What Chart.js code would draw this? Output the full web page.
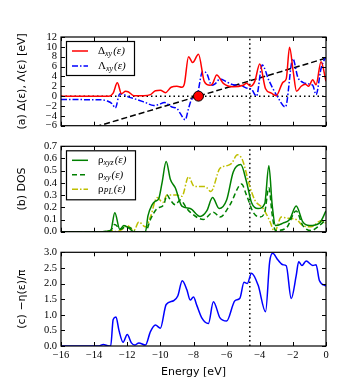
<!DOCTYPE html>
<html>
<head>
<meta charset="utf-8">
<script src="https://cdn.jsdelivr.net/npm/chart.js@4.4.1/dist/chart.umd.min.js"></script>
<style>
  body { margin: 0; background: #fff; }
  #wrap { position: relative; width: 339px; height: 384px; }
  canvas { position: absolute; left: 0; }
</style>
</head>
<body>
<div id="wrap">
  <canvas id="chart-a" width="339" height="136" style="top:0px"></canvas>
  <canvas id="chart-b" width="339" height="106" style="top:136px"></canvas>
  <canvas id="chart-c" width="339" height="142" style="top:242px"></canvas>
</div>
<script>
var fermiEnergy = -4.6;
var crossEnergy = -7.7;
var xTicks = [-16, -14, -12, -10, -8, -6, -4, -2, 0];

// (a) Delta_xy and Lambda_xy [eV]
var deltaE = [-16, -13.1, -12.85, -12.6, -12.35, -12.1, -11.95, -11.6, -11.0, -10.6, -10.3, -10.0, -9.7, -9.35, -9.0, -8.7, -8.55, -8.3, -8.05, -7.7, -7.35, -7.0, -6.85, -6.6, -6.2, -5.6, -5.0, -4.8, -4.55, -4.3, -4.0, -3.65, -3.3, -3.0, -2.6, -2.4, -2.2, -1.98, -1.78, -1.5, -1.25, -1.05, -0.8, -0.6, -0.3, 0];
var deltaV = [0, 0, 0.6, 2.7, 0.5, 1.0, 0.9, 0.1, 0.1, 0.3, 1.1, 1.2, 0.7, 1.8, 2.0, 1.8, 2.5, 8.0, 6.8, 8.5, 3.0, 2.2, 2.5, 4.3, 2.6, 1.9, 2.2, 2.6, 2.0, 3.0, 6.5, 1.5, 0.6, 0.1, 2.8, 3.5, 9.9, 5.0, 1.0, 2.0, 2.4, 2.0, 3.3, 2.3, 7.0, 3.0];
var lambdaE = [-16, -13.6, -13.2, -12.9, -12.72, -12.45, -12.2, -11.9, -11.5, -10.9, -10.4, -10.1, -9.75, -9.3, -9.0, -8.8, -8.5, -8.3, -8.1, -7.8, -7.45, -7.2, -6.9, -6.7, -6.4, -6.0, -5.6, -5.2, -4.75, -4.5, -4.2, -3.85, -3.45, -2.95, -2.45, -2.0, -1.7, -1.4, -1.1, -0.8, -0.6, -0.3, -0.05];
var lambdaV = [-0.7, -0.75, -1.0, -1.6, -2.4, 0.5, 0.3, -0.2, -0.6, -1.3, -1.9, -1.7, -1.3, -2.2, -2.5, -3.5, -4.8, -2.5, -0.6, 0.0, 5.0, 4.6, 2.2, 2.5, 3.5, 2.9, 2.3, 2.2, 1.6, 1.4, 0.0, 6.3, 3.2, 0.0, -2.2, 7.6, 3.8, 2.8, 2.5, 2.2, 0.3, 5.6, 7.8];
var lineE = [-16, 0];   // straight line eps - E0
var aTicks = [-6, -4, -2, 0, 2, 4, 6, 8, 10, 12];

// (b) DOS
var rhoXyzE = [-16, -13.5, -13.0, -12.75, -12.45, -12.2, -11.9, -11.6, -10.9, -10.75, -10.5, -10.3, -10.1, -9.9, -9.65, -9.4, -9.1, -8.7, -8.2, -7.6, -7.2, -6.85, -6.45, -6.0, -5.6, -5.15, -4.8, -4.5, -4.1, -3.7, -3.45, -3.25, -3.05, -2.6, -2.2, -1.8, -1.4, -1.0, -0.4, 0];
var rhoXyzV = [0, 0, 0.01, 0.155, 0.02, 0.05, 0.03, 0.0, 0.0, 0.13, 0.22, 0.25, 0.27, 0.40, 0.575, 0.43, 0.36, 0.21, 0.19, 0.125, 0.17, 0.28, 0.19, 0.26, 0.49, 0.55, 0.41, 0.24, 0.19, 0.23, 0.54, 0.22, 0.05, 0.07, 0.10, 0.21, 0.08, 0.05, 0.07, 0.17];
var rhoXyE = [-16, -13.5, -13.0, -12.75, -12.4, -12.1, -11.8, -11.5, -10.9, -10.6, -10.2, -9.8, -9.6, -9.4, -9.1, -8.8, -8.4, -8.2, -7.4, -6.8, -6.4, -5.8, -5.1, -4.8, -4.4, -4.0, -3.7, -3.45, -3.25, -3.05, -2.4, -1.8, -1.4, -0.9, -0.4, 0];
var rhoXyV = [0, 0, 0.01, 0.06, 0.02, 0.04, 0.03, 0.0, 0.0, 0.10, 0.19, 0.22, 0.30, 0.26, 0.22, 0.26, 0.19, 0.16, 0.10, 0.16, 0.12, 0.22, 0.39, 0.30, 0.16, 0.12, 0.16, 0.36, 0.14, 0.01, 0.03, 0.17, 0.05, 0.01, 0.05, 0.10];
var rhoPlE = [-16, -13.3, -13.0, -12.6, -12.3, -12.0, -11.6, -11.3, -10.9, -10.6, -10.2, -9.85, -9.6, -9.0, -8.7, -8.3, -7.95, -7.3, -6.95, -6.4, -6.0, -5.7, -5.35, -5.05, -4.6, -4.3, -3.8, -3.4, -3.1, -2.7, -2.3, -1.8, -1.4, -0.9, -0.3, 0];
var rhoPlV = [0, 0, 0.01, 0.0, 0.02, 0.05, 0.01, 0.08, 0.04, 0.12, 0.28, 0.24, 0.30, 0.30, 0.29, 0.45, 0.37, 0.37, 0.33, 0.52, 0.54, 0.56, 0.63, 0.59, 0.37, 0.26, 0.19, 0.09, 0.0, 0.12, 0.11, 0.10, 0.05, 0.04, 0.09, 0.07];
var bTicks = [0, 0.1, 0.2, 0.3, 0.4, 0.5, 0.6, 0.7];

// (c) -eta/pi
var etaE = [-16, -13.7, -13.45, -13.1, -13.0, -12.85, -12.68, -12.5, -12.25, -12.0, -11.75, -11.55, -11.3, -10.9, -10.6, -10.3, -10.0, -9.65, -9.2, -8.95, -8.68, -8.4, -8.2, -8.0, -7.8, -7.5, -7.1, -6.8, -6.4, -6.0, -5.5, -5.2, -4.95, -4.75, -4.5, -4.1, -3.65, -3.4, -3.22, -2.9, -2.6, -2.4, -2.1, -1.8, -1.65, -1.45, -1.2, -0.8, -0.6, -0.4, 0];
var etaV = [0, 0, 0.05, 0.0, 0.0, 0.85, 0.93, 0.5, 0.12, 0.37, 0.1, 0.03, 0.1, 0.03, 0.46, 0.67, 0.57, 1.33, 1.45, 1.6, 2.09, 1.8, 1.47, 1.57, 1.3, 0.9, 0.72, 1.42, 0.9, 0.8, 1.45, 1.53, 2.04, 2.0, 2.33, 1.95, 1.1, 2.7, 2.97, 2.75, 2.6, 2.57, 1.52, 2.25, 2.7, 2.58, 2.72, 2.58, 2.6, 2.1, 1.92];
var cTicks = [0, 0.5, 1.0, 1.5, 2.0, 2.5, 3.0];

var tickFont = { family: '"Liberation Serif", serif', size: 10.5 };
var titleFont = { family: '"DejaVu Sans", sans-serif', size: 11 };

function pts(xs, ys) {
  return xs.map(function(x, i) { return { x: x, y: ys[i] }; });
}
function fmt(v, d) {
  return (v < 0 ? '\u2212' : '') + Math.abs(v).toFixed(d);
}
function curve(xs, ys, color, dash) {
  return {
    data: pts(xs, ys), borderColor: color, borderWidth: 1.5, borderDash: dash || [],
    pointRadius: 0, cubicInterpolationMode: 'monotone', fill: false
  };
}
function refLine(xs, ys) {
  return {
    data: pts(xs, ys), borderColor: '#000', borderWidth: 1.5, borderDash: [1.5, 3],
    pointRadius: 0, tension: 0, fill: false
  };
}

// matplotlib look: frame, inward ticks on all sides, boxed legend
var framePlugin = {
  id: 'frame',
  afterDatasetsDraw: function(chart, args, opts) {
    var ctx = chart.ctx, a = chart.chartArea;
    var xs = chart.scales.x, ys = chart.scales.y;
    ctx.save();
    ctx.strokeStyle = '#000';
    ctx.lineWidth = 1;
    ctx.beginPath();
    xTicks.forEach(function(t) {
      var px = Math.round(xs.getPixelForValue(t)) + 0.5;
      ctx.moveTo(px, a.top); ctx.lineTo(px, a.top + 4);
      ctx.moveTo(px, a.bottom); ctx.lineTo(px, a.bottom - 4);
    });
    opts.yTicks.forEach(function(t) {
      var py = Math.round(ys.getPixelForValue(t)) + 0.5;
      ctx.moveTo(a.left, py); ctx.lineTo(a.left + 4, py);
      ctx.moveTo(a.right, py); ctx.lineTo(a.right - 4, py);
    });
    ctx.stroke();
    ctx.lineWidth = 1.2;
    ctx.strokeRect(a.left, a.top, a.right - a.left, a.bottom - a.top);

    // legend
    var lg = opts.legend;
    if (lg) {
      var bx = a.left + 5, by = a.top + 4;
      ctx.fillStyle = '#fff';
      ctx.fillRect(bx, by, lg.w, lg.h);
      ctx.lineWidth = 1.2;
      ctx.strokeRect(bx + 0.5, by + 0.5, lg.w, lg.h);
      lg.items.forEach(function(it, i) {
        var y = by + 10 + i * lg.gap;
        ctx.strokeStyle = it.color;
        ctx.lineWidth = 1.5;
        ctx.setLineDash(it.dash || []);
        ctx.beginPath();
        ctx.moveTo(bx + 6, y); ctx.lineTo(bx + 22, y);
        ctx.stroke();
        ctx.setLineDash([]);
        ctx.fillStyle = '#000';
        ctx.textBaseline = 'middle';
        var tx = bx + 32;
        ctx.font = '11px "Liberation Serif", serif';
        ctx.fillText(it.sym, tx, y);
        tx += ctx.measureText(it.sym).width;
        ctx.font = 'italic 8px "Liberation Serif", serif';
        ctx.fillText(it.sub, tx, y + 3);
        tx += ctx.measureText(it.sub).width + 1;
        ctx.font = 'italic 11px "Liberation Serif", serif';
        ctx.fillText('(\u03b5)', tx, y);
      });
    }
    ctx.restore();
  }
};

function yScale(min, max, step, digits, title) {
  return {
    type: 'linear', min: min, max: max,
    afterFit: function(s) { s.width = 45; },
    border: { display: false },
    grid: { display: false, drawTicks: false },
    ticks: { stepSize: step, padding: 4, color: '#000', font: tickFont, autoSkip: false,
             callback: function(v) { return fmt(v, digits); } },
    title: { display: true, text: title, color: '#000', font: titleFont, padding: { top: 0, bottom: 2 } }
  };
}
function xHidden() {
  return { type: 'linear', min: -16, max: 0, display: false };
}

function makeChart(id, datasets, scales, padding, pluginOpts) {
  return new Chart(document.getElementById(id), {
    type: 'line',
    data: { datasets: datasets },
    options: {
      responsive: false, animation: false, devicePixelRatio: 1,
      layout: { padding: padding },
      scales: scales,
      plugins: { legend: { display: false }, tooltip: { enabled: false }, frame: pluginOpts }
    },
    plugins: [framePlugin]
  });
}

// panel (a)
makeChart('chart-a', [
  { type: 'scatter', data: [{ x: crossEnergy, y: 0 }], pointRadius: 5, backgroundColor: '#ff0000',
    borderColor: '#000', borderWidth: 1 },
  curve(deltaE, deltaV, '#ff0000'),
  curve(lambdaE, lambdaV, '#0000ff', [6, 2, 1.5, 2]),
  { data: pts(lineE, lineE.map(function(e) { return e - crossEnergy; })), borderColor: '#000',
    borderWidth: 1.5, borderDash: [6, 3], pointRadius: 0, tension: 0 },
  refLine([-16, 0], [0, 0]),
  refLine([fermiEnergy, fermiEnergy], [-6, 12])
], {
  x: xHidden(),
  y: yScale(-6, 12, 2, 0, '(a) \u0394(\u03b5), \u039b(\u03b5) [eV]')
}, { left: 16, right: 13, top: 37, bottom: 4 }, {
  yTicks: aTicks,
  legend: { w: 68, h: 34, gap: 15, items: [
    { sym: '\u0394', sub: 'xy', color: '#ff0000' },
    { sym: '\u039b', sub: 'xy', color: '#0000ff', dash: [6, 2, 1.5, 2] }
  ] }
});

// panel (b)
makeChart('chart-b', [
  curve(rhoXyzE, rhoXyzV, '#008000'),
  curve(rhoXyE, rhoXyV, '#008000', [5, 3]),
  curve(rhoPlE, rhoPlV, '#bfbf00', [6, 2, 1.5, 2]),
  refLine([fermiEnergy, fermiEnergy], [0, 0.7])
], {
  x: xHidden(),
  y: yScale(0, 0.7, 0.1, 1, '(b) DOS')
}, { left: 16, right: 13, top: 8, bottom: 4 }, {
  yTicks: bTicks,
  legend: { w: 69, h: 49, gap: 14.5, items: [
    { sym: '\u03c1', sub: 'xyz', color: '#008000' },
    { sym: '\u03c1', sub: 'xy', color: '#008000', dash: [5, 3] },
    { sym: '\u03c1', sub: 'PL', color: '#bfbf00', dash: [6, 2, 1.5, 2] }
  ] }
});

// panel (c)
makeChart('chart-c', [
  curve(etaE, etaV, '#0000ff'),
  refLine([fermiEnergy, fermiEnergy], [0, 3])
], {
  x: {
    type: 'linear', min: -16, max: 0,
    afterFit: function(s) { s.height = 33; },
    border: { display: false },
    grid: { display: false, drawTicks: false },
    ticks: { stepSize: 2, padding: 3, color: '#000', font: tickFont, maxRotation: 0, autoSkip: false,
             callback: function(v) { return fmt(v, 0); } },
    title: { display: true, text: 'Energy [eV]', color: '#000', font: titleFont, padding: { top: 2, bottom: 0 } }
  },
  y: yScale(0, 3, 0.5, 1, '(c) \u2212\u03b7(\u03b5)/\u03c0')
}, { left: 16, right: 13, top: 9, bottom: 5 }, {
  yTicks: cTicks
});
</script>
</body>
</html>
